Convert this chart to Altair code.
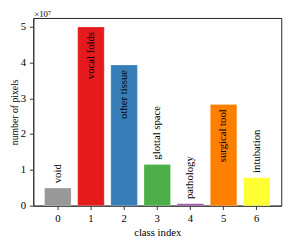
import altair as alt
import pandas as pd

class_index = [0, 1, 2, 3, 4, 5, 6]
class_names = ["void", "vocal folds", "other tissue", "glottal space", "pathology", "surgical tool", "intubation"]
pixel_counts = [0.49e7, 4.99e7, 3.93e7, 1.15e7, 0.05e7, 2.83e7, 0.78e7]
bar_colors = ["#999999", "#e41a1c", "#377eb8", "#4daf4a", "#984ea3", "#ff7f00", "#ffff33"]
y_ticks = [0, 1, 2, 3, 4, 5]

df = pd.DataFrame({
    "idx": class_index,
    "name": class_names,
    "count": pixel_counts,
})
df["v"] = df["count"] / 1e7

FONT = "Liberation Serif"

x = alt.X("idx:O", title="class index",
          scale=alt.Scale(paddingInner=0.2, paddingOuter=0.34),
          axis=alt.Axis(labelAngle=0, tickSize=4, labelPadding=3, titlePadding=4,
                        domainColor="#333", tickColor="#333"))
y = alt.Y("v:Q", title="number of pixels",
          scale=alt.Scale(domain=[0, 5.245], nice=False),
          axis=alt.Axis(values=y_ticks, format="d", tickSize=4, labelPadding=4, titlePadding=1,
                        titleFontSize=10,
                        grid=False, domainColor="#333", tickColor="#333"))

base = alt.Chart(df)

bars = base.mark_bar(stroke="white", strokeWidth=0.4, strokeOpacity=0.6).encode(
    x=x, y=y,
    color=alt.Color("name:N", scale=alt.Scale(domain=class_names, range=bar_colors), legend=None),
)

outside = base.transform_filter("datum.v < 2").mark_text(
    angle=270, align="left", baseline="middle", dx=5, font=FONT, fontSize=11, color="black"
).encode(x=x, y=y, text="name:N")

inside = base.transform_filter("datum.v >= 2").mark_text(
    angle=270, align="right", baseline="middle", dx=-5, font=FONT, fontSize=11, color="black"
).encode(x=x, y=y, text="name:N")

mult = alt.Chart(pd.DataFrame({"t": ["×10⁷"]})).mark_text(
    align="left", baseline="alphabetic", font=FONT, fontSize=9, color="black"
).encode(x=alt.value(1), y=alt.value(-1.5), text="t:N")

chart = alt.layer(bars, outside, inside, mult).properties(
    width=255, height=193,
    autosize=alt.AutoSizeParams(type="none"),
    padding={"left": 26, "top": 7, "right": 9, "bottom": 30},
).configure_view(
    stroke="#222", strokeWidth=1
).configure_axis(
    labelFont=FONT, titleFont=FONT, labelFontSize=11, titleFontSize=11,
    titleFontWeight="normal", labelColor="black", titleColor="black"
)

chart.save("out.html", embed_options={"renderer": "svg", "actions": False})
